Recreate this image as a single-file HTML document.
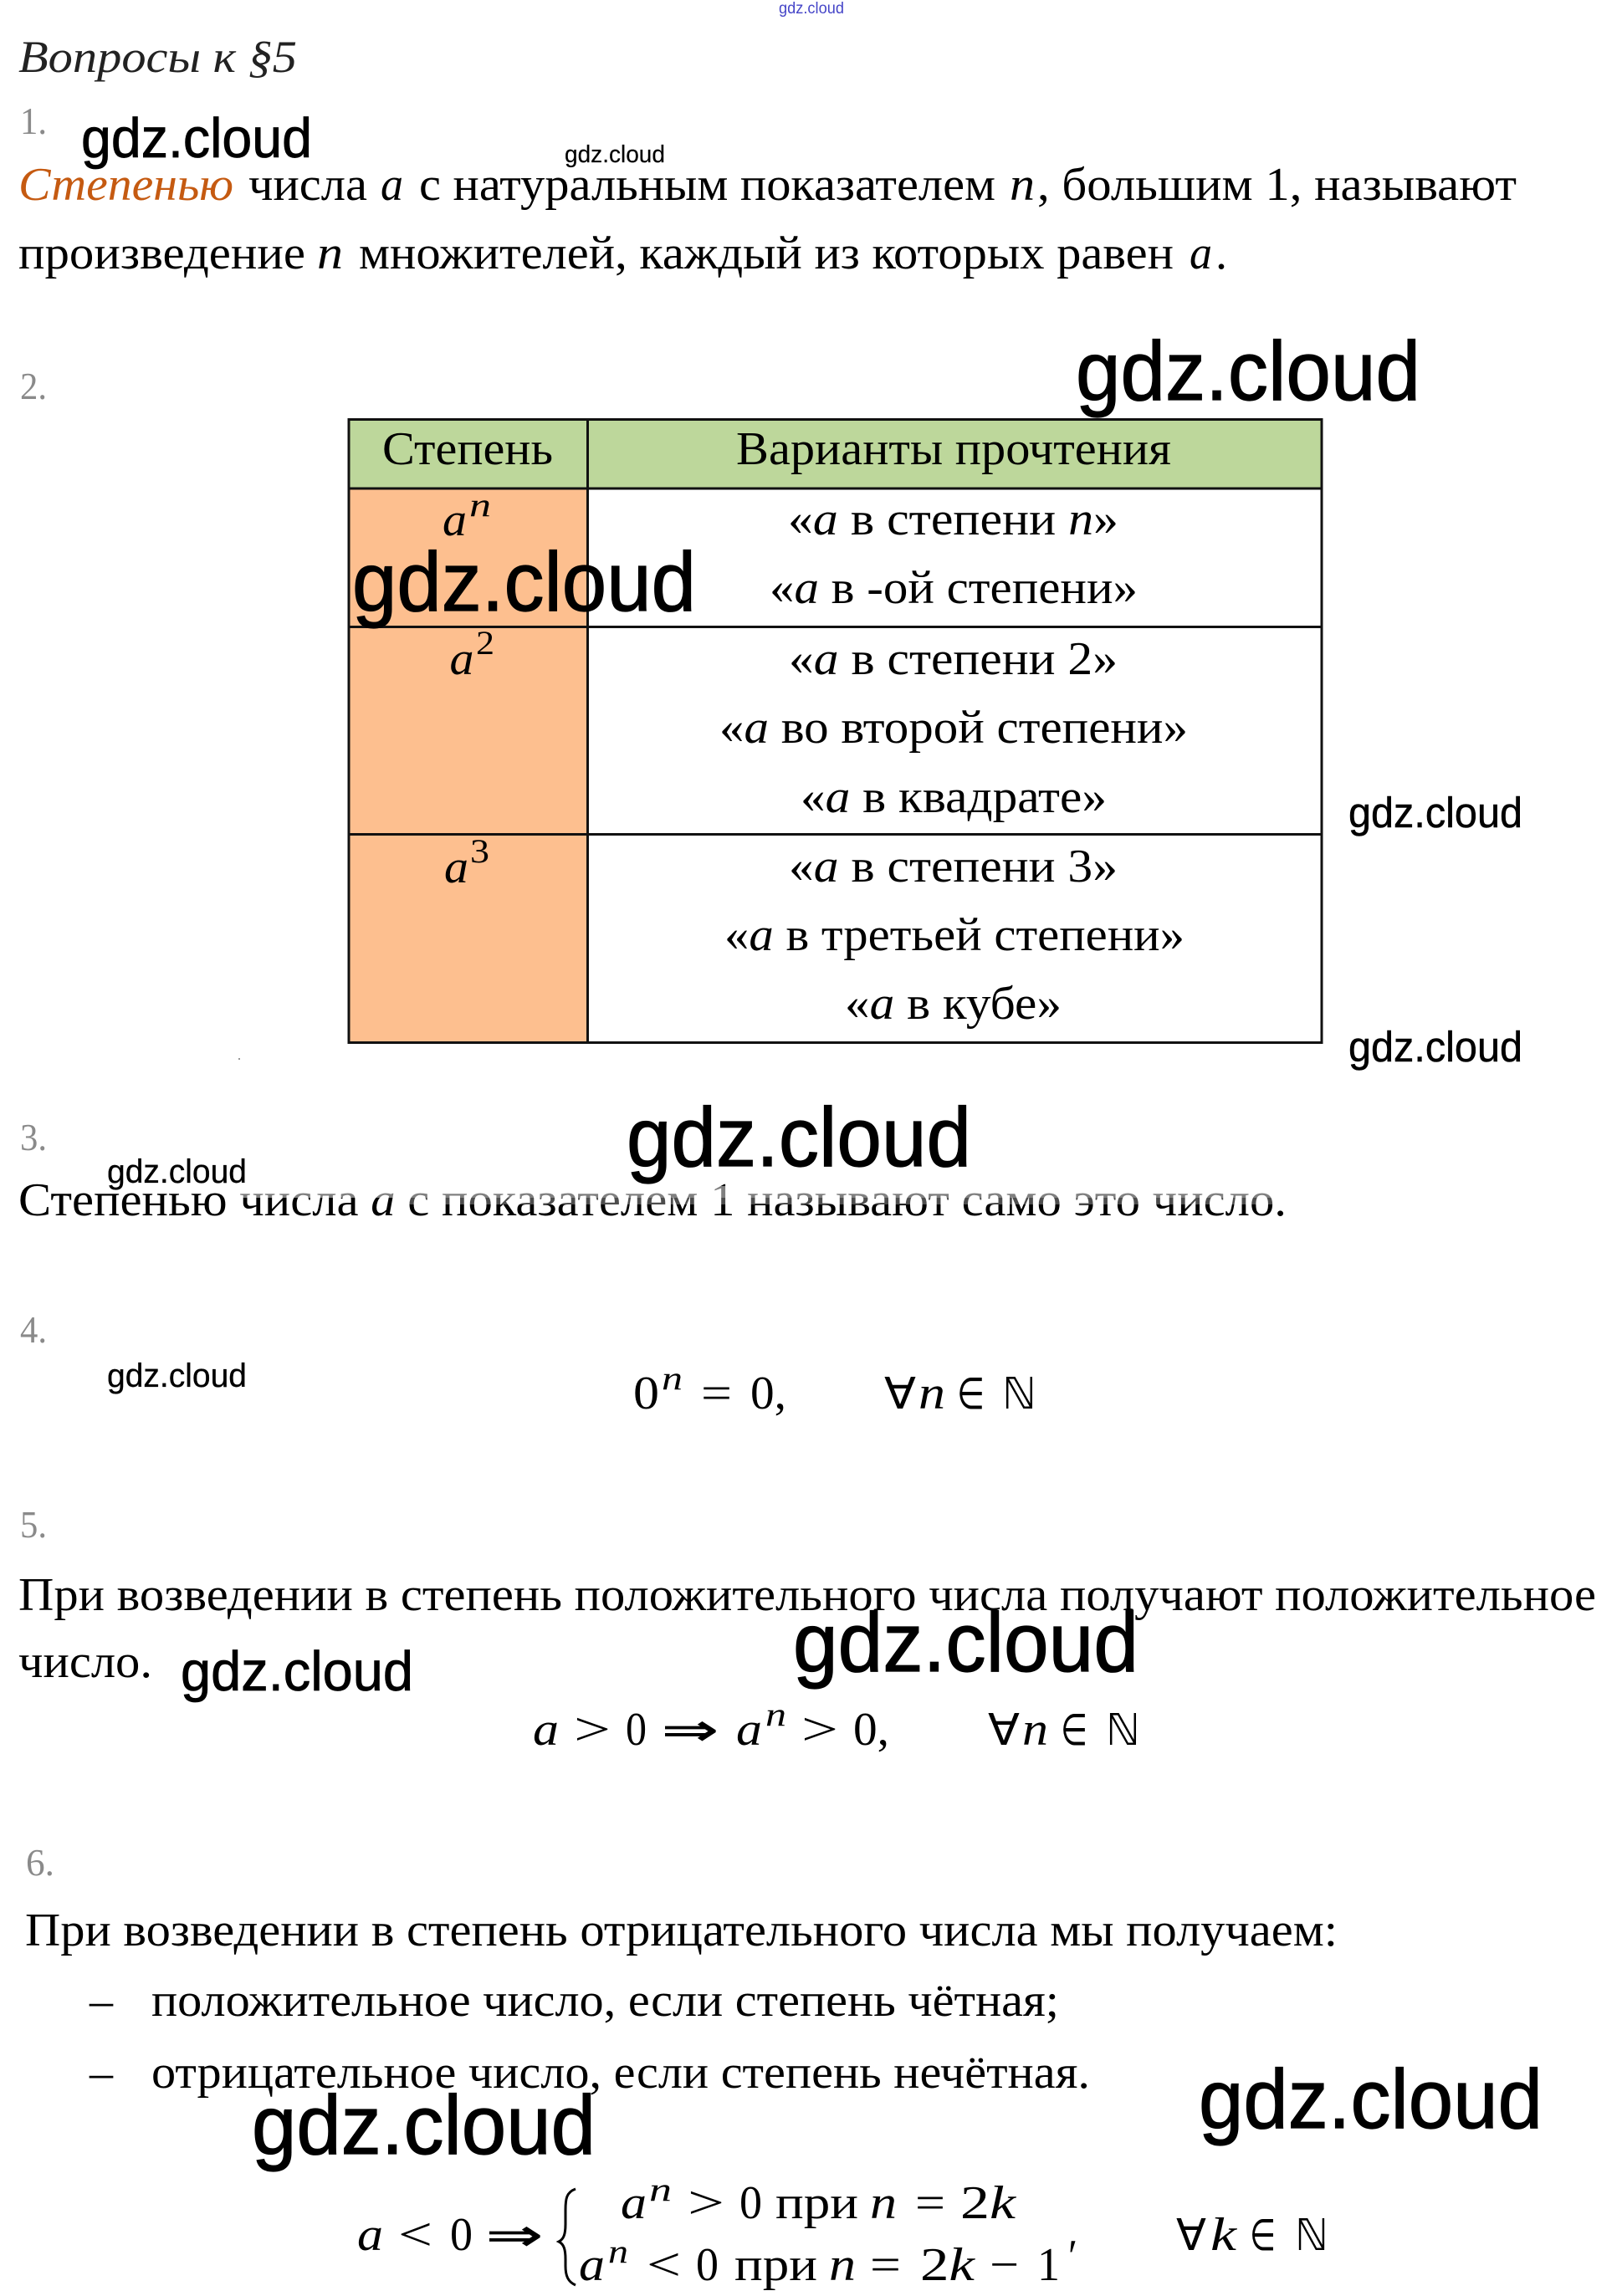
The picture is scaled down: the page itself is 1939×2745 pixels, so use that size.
<!DOCTYPE html>
<html lang="ru"><head><meta charset="utf-8"><title>Вопросы к §5</title>
<style>
html,body{margin:0;padding:0;background:#fff;width:1939px;height:2745px;overflow:hidden}
svg{display:block}
text{font-family:"Liberation Serif","DejaVu Serif",serif;font-size:56px;fill:#000;white-space:pre}
.i,tspan.i{font-style:italic}
.g{font-size:46px;fill:#8a8a8a}
.w{font-family:"Liberation Sans","DejaVu Sans",sans-serif;fill:#000;stroke:#000}
.xl{font-size:100px;stroke-width:1.2px}.l{font-size:67px;stroke-width:.8px}.m{font-size:51px;stroke-width:.5px}.s{font-size:40px;stroke-width:.3px}.xs{font-size:29px;stroke-width:.2px}
.d{font-family:"DejaVu Sans",sans-serif;font-size:52px}
.sup{font-size:40px}
</style></head><body>
<svg width="1939" height="2745" viewBox="0 0 1939 2745" xmlns="http://www.w3.org/2000/svg">
<rect width="1939" height="2745" fill="#fff"/>

<text x="931" y="16" class="w" style="font-size:19px;fill:#4646c8;stroke:none" textLength="78" lengthAdjust="spacingAndGlyphs">gdz.cloud</text>
<text x="22" y="86" class="i" style="font-size:54px;fill:#222" textLength="333" lengthAdjust="spacingAndGlyphs">Вопросы к §5</text>
<text x="24" y="160" class="g" textLength="32" lengthAdjust="spacingAndGlyphs">1.</text>

<text x="22" y="239" class="i" style="fill:#c55a11" textLength="257" lengthAdjust="spacingAndGlyphs">Степенью</text>
<text x="297" y="239" textLength="142" lengthAdjust="spacingAndGlyphs">числа</text>
<text x="455" y="239" class="i" textLength="27" lengthAdjust="spacingAndGlyphs">a</text>
<text x="501" y="239" textLength="689" lengthAdjust="spacingAndGlyphs">с натуральным показателем</text>
<text x="1207" y="239" class="i" textLength="30" lengthAdjust="spacingAndGlyphs">n</text>
<text x="1240" y="239" textLength="573" lengthAdjust="spacingAndGlyphs">, большим 1, называют</text>

<text x="22" y="321" textLength="343" lengthAdjust="spacingAndGlyphs">произведение</text>
<text x="379" y="321" class="i" textLength="31" lengthAdjust="spacingAndGlyphs">n</text>
<text x="429" y="321" textLength="974" lengthAdjust="spacingAndGlyphs">множителей, каждый из которых равен</text>
<text x="1422" y="321" class="i" textLength="27" lengthAdjust="spacingAndGlyphs">a</text>
<text x="1453" y="321">.</text>

<text x="24" y="477" class="g" textLength="32" lengthAdjust="spacingAndGlyphs">2.</text>

<!-- table -->
<rect x="416" y="501" width="1164" height="83" fill="#bdd79b"/>
<rect x="416" y="584" width="286" height="662" fill="#fdbf8f"/>
<g stroke="#111" stroke-width="3" fill="none">
<rect x="417" y="501.500" width="1163" height="745"/>
<path d="M702.500 501V1246M417 584H1580M417 749.500H1580M417 997.500H1580"/>
</g>
<text x="457" y="555" textLength="204" lengthAdjust="spacingAndGlyphs">Степень</text>
<text x="880" y="555" textLength="520" lengthAdjust="spacingAndGlyphs">Варианты прочтения</text>

<text x="529" y="640" class="i" textLength="29" lengthAdjust="spacingAndGlyphs">a</text><text x="561" y="617" class="i sup" textLength="26" lengthAdjust="spacingAndGlyphs">n</text>
<text x="537.500" y="806" class="i" textLength="29" lengthAdjust="spacingAndGlyphs">a</text><text x="569" y="782" class="sup" textLength="22" lengthAdjust="spacingAndGlyphs">2</text>
<text x="531" y="1055" class="i" textLength="29" lengthAdjust="spacingAndGlyphs">a</text><text x="562" y="1031" class="sup" textLength="23" lengthAdjust="spacingAndGlyphs">3</text>

<text x="942" y="639" textLength="395" lengthAdjust="spacingAndGlyphs">«<tspan class="i">a</tspan> в степени <tspan class="i">n</tspan>»</text>
<text x="920" y="721" textLength="440" lengthAdjust="spacingAndGlyphs">«<tspan class="i">a</tspan> в -ой степени»</text>
<text x="943" y="806" textLength="393" lengthAdjust="spacingAndGlyphs">«<tspan class="i">a</tspan> в степени 2»</text>
<text x="860" y="888" textLength="560" lengthAdjust="spacingAndGlyphs">«<tspan class="i">a</tspan> во второй степени»</text>
<text x="957" y="971" textLength="366" lengthAdjust="spacingAndGlyphs">«<tspan class="i">a</tspan> в квадрате»</text>
<text x="943" y="1054" textLength="393" lengthAdjust="spacingAndGlyphs">«<tspan class="i">a</tspan> в степени 3»</text>
<text x="866" y="1136" textLength="550" lengthAdjust="spacingAndGlyphs">«<tspan class="i">a</tspan> в третьей степени»</text>
<text x="1010" y="1218" textLength="259" lengthAdjust="spacingAndGlyphs">«<tspan class="i">a</tspan> в кубе»</text>

<circle cx="286" cy="1266" r="1" fill="#777"/>

<!-- 3 -->
<text x="24" y="1375" class="g" textLength="32" lengthAdjust="spacingAndGlyphs">3.</text>
<text x="22" y="1453" textLength="1516" lengthAdjust="spacingAndGlyphs">Степенью числа <tspan class="i">a</tspan> с показателем 1 называют само это число.</text>
<rect x="285" y="1418" width="1245" height="14" fill="#fff" opacity=".5"/>
<rect x="480" y="1432" width="1050" height="8" fill="#fff" opacity=".3"/>

<!-- 4 -->
<text x="24" y="1605" class="g" textLength="32" lengthAdjust="spacingAndGlyphs">4.</text>
<text x="757" y="1684" textLength="31" lengthAdjust="spacingAndGlyphs">0</text><text x="791" y="1661" class="i sup" textLength="25" lengthAdjust="spacingAndGlyphs">n</text>
<text x="838" y="1684" textLength="37" lengthAdjust="spacingAndGlyphs">=</text>
<text x="897" y="1684" textLength="43" lengthAdjust="spacingAndGlyphs">0,</text>
<text x="1057" y="1684" class="d" textLength="38" lengthAdjust="spacingAndGlyphs">∀</text>
<text x="1098" y="1684" class="i" textLength="32" lengthAdjust="spacingAndGlyphs">n</text>
<text x="1144" y="1684" class="d" textLength="33" lengthAdjust="spacingAndGlyphs">∈</text>
<text x="1198" y="1684" class="d" textLength="41" lengthAdjust="spacingAndGlyphs">ℕ</text>

<!-- 5 -->
<text x="24" y="1838" class="g" textLength="32" lengthAdjust="spacingAndGlyphs">5.</text>
<text x="22" y="1925" textLength="1886" lengthAdjust="spacingAndGlyphs">При возведении в степень положительного числа получают положительное</text>
<text x="22" y="2005" textLength="160" lengthAdjust="spacingAndGlyphs">число.</text>
<text x="637" y="2086" class="i" textLength="31" lengthAdjust="spacingAndGlyphs">a</text>
<text x="686" y="2086" textLength="44" lengthAdjust="spacingAndGlyphs">&gt;</text>
<text x="748" y="2086" textLength="25" lengthAdjust="spacingAndGlyphs">0</text>
<text x="791" y="2086" class="d" stroke="#000" stroke-width=".8" textLength="68" lengthAdjust="spacingAndGlyphs">⇒</text>
<text x="880" y="2086" class="i" textLength="31" lengthAdjust="spacingAndGlyphs">a</text>
<text x="915" y="2063" class="i sup" textLength="25" lengthAdjust="spacingAndGlyphs">n</text>
<text x="958" y="2086" textLength="44" lengthAdjust="spacingAndGlyphs">&gt;</text>
<text x="1020" y="2086" textLength="43" lengthAdjust="spacingAndGlyphs">0,</text>
<text x="1181" y="2086" class="d" textLength="38" lengthAdjust="spacingAndGlyphs">∀</text>
<text x="1222" y="2086" class="i" textLength="31" lengthAdjust="spacingAndGlyphs">n</text>
<text x="1268" y="2086" class="d" textLength="32" lengthAdjust="spacingAndGlyphs">∈</text>
<text x="1322" y="2086" class="d" textLength="41" lengthAdjust="spacingAndGlyphs">ℕ</text>

<!-- 6 -->
<text x="31" y="2242" class="g" textLength="34" lengthAdjust="spacingAndGlyphs">6.</text>
<text x="30" y="2326" textLength="1569" lengthAdjust="spacingAndGlyphs">При возведении в степень отрицательного числа мы получаем:</text>
<text x="107" y="2410" textLength="28" lengthAdjust="spacingAndGlyphs">–</text>
<text x="181" y="2410" textLength="1085" lengthAdjust="spacingAndGlyphs">положительное число, если степень чётная;</text>
<text x="107" y="2496" textLength="28" lengthAdjust="spacingAndGlyphs">–</text>
<text x="181" y="2496" textLength="1122" lengthAdjust="spacingAndGlyphs">отрицательное число, если степень нечётная.</text>

<text x="427" y="2690" class="i" textLength="31" lengthAdjust="spacingAndGlyphs">a</text>
<text x="476" y="2690" textLength="41" lengthAdjust="spacingAndGlyphs">&lt;</text>
<text x="538" y="2690" textLength="27" lengthAdjust="spacingAndGlyphs">0</text>
<text x="581" y="2690" class="d" stroke="#000" stroke-width=".8" textLength="68" lengthAdjust="spacingAndGlyphs">⇒</text>
<path d="M688 2617C677 2621 676 2629 676 2642V2659C676 2671 674 2677 668 2680C674 2683 676 2689 676 2701V2709C676 2721 679 2728 688 2732" fill="none" stroke="#000" stroke-width="3"/>

<text x="742" y="2652" class="i" textLength="31" lengthAdjust="spacingAndGlyphs">a</text>
<text x="776" y="2631" class="i sup" textLength="27" lengthAdjust="spacingAndGlyphs">n</text>
<text x="822" y="2652" textLength="44" lengthAdjust="spacingAndGlyphs">&gt;</text>
<text x="884" y="2652" textLength="27" lengthAdjust="spacingAndGlyphs">0</text>
<text x="927" y="2652" textLength="99" lengthAdjust="spacingAndGlyphs">при</text>
<text x="1040" y="2652" class="i" textLength="32" lengthAdjust="spacingAndGlyphs">n</text>
<text x="1094" y="2652" textLength="36" lengthAdjust="spacingAndGlyphs">=</text>
<text x="1148" y="2652" textLength="66" lengthAdjust="spacingAndGlyphs">2<tspan class="i">k</tspan></text>

<text x="692" y="2726" class="i" textLength="31" lengthAdjust="spacingAndGlyphs">a</text>
<text x="727" y="2705" class="i sup" textLength="24" lengthAdjust="spacingAndGlyphs">n</text>
<text x="773" y="2726" textLength="41" lengthAdjust="spacingAndGlyphs">&lt;</text>
<text x="832" y="2726" textLength="27" lengthAdjust="spacingAndGlyphs">0</text>
<text x="878" y="2726" textLength="99" lengthAdjust="spacingAndGlyphs">при</text>
<text x="991" y="2726" class="i" textLength="32" lengthAdjust="spacingAndGlyphs">n</text>
<text x="1040" y="2726" textLength="37" lengthAdjust="spacingAndGlyphs">=</text>
<text x="1100" y="2726" textLength="65" lengthAdjust="spacingAndGlyphs">2<tspan class="i">k</tspan></text>
<text x="1183" y="2726" textLength="35" lengthAdjust="spacingAndGlyphs">−</text>
<text x="1240" y="2726" textLength="27" lengthAdjust="spacingAndGlyphs">1</text>
<text x="1277" y="2716" textLength="11" lengthAdjust="spacingAndGlyphs">′</text>

<text x="1406" y="2690" class="d" textLength="36" lengthAdjust="spacingAndGlyphs">∀</text>
<text x="1447" y="2690" class="i" textLength="31" lengthAdjust="spacingAndGlyphs">k</text>
<text x="1494" y="2690" class="d" textLength="31" lengthAdjust="spacingAndGlyphs">∈</text>
<text x="1548" y="2690" class="d" textLength="40" lengthAdjust="spacingAndGlyphs">ℕ</text>

<!-- watermarks -->
<text x="97" y="188" class="w l" textLength="276" lengthAdjust="spacingAndGlyphs">gdz.cloud</text>
<text x="675" y="194" class="w xs" textLength="120" lengthAdjust="spacingAndGlyphs">gdz.cloud</text>
<text x="1286" y="478" class="w xl" textLength="412" lengthAdjust="spacingAndGlyphs">gdz.cloud</text>
<text x="421" y="730" class="w xl" textLength="411" lengthAdjust="spacingAndGlyphs">gdz.cloud</text>
<text x="1612" y="989" class="w m" textLength="208" lengthAdjust="spacingAndGlyphs">gdz.cloud</text>
<text x="1612" y="1269" class="w m" textLength="208" lengthAdjust="spacingAndGlyphs">gdz.cloud</text>
<text x="749" y="1394" class="w xl" textLength="412" lengthAdjust="spacingAndGlyphs">gdz.cloud</text>
<text x="128" y="1414" class="w s" textLength="167" lengthAdjust="spacingAndGlyphs">gdz.cloud</text>
<text x="128" y="1658" class="w s" textLength="167" lengthAdjust="spacingAndGlyphs">gdz.cloud</text>
<text x="948" y="1998" class="w xl" textLength="413" lengthAdjust="spacingAndGlyphs">gdz.cloud</text>
<text x="216" y="2021" class="w l" textLength="278" lengthAdjust="spacingAndGlyphs">gdz.cloud</text>
<text x="301" y="2575" class="w xl" textLength="411" lengthAdjust="spacingAndGlyphs">gdz.cloud</text>
<text x="1433" y="2544" class="w xl" textLength="411" lengthAdjust="spacingAndGlyphs">gdz.cloud</text>
</svg>
</body></html>
